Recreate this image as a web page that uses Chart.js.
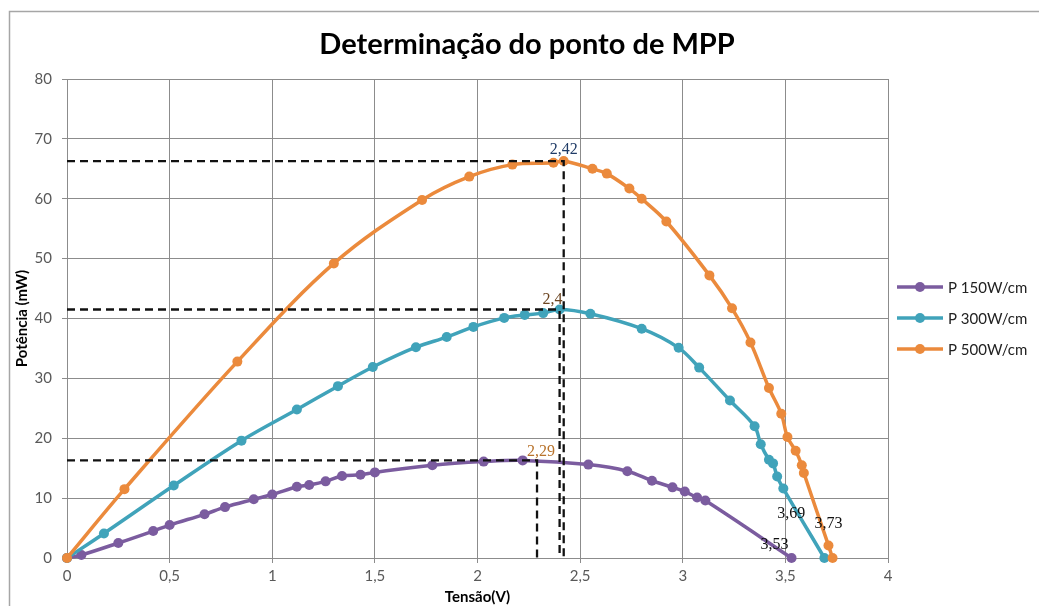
<!DOCTYPE html>
<html>
<head>
<meta charset="utf-8">
<title>Determinação do ponto de MPP</title>
<script src="https://cdn.jsdelivr.net/npm/chart.js@4.4.0/dist/chart.umd.min.js"></script>
<style>
  html, body { margin: 0; padding: 0; background: #fff; }
  #wrap { width: 1039px; height: 606px; }
</style>
</head>
<body>
<div id="wrap"><canvas id="mppChart" width="1039" height="606"></canvas></div>
<script>
// series: tensão (V) and potência (mW)
const seriesNames = ["P 150W/cm", "P 300W/cm", "P 500W/cm"];
const seriesColors = ["#7b5c9f", "#40a3ba", "#eb8a3c"];

const v150 = [0, 0.07, 0.25, 0.42, 0.50, 0.67, 0.77, 0.91, 1.00, 1.12, 1.18, 1.26, 1.34, 1.43, 1.50,
  1.78, 2.03, 2.22, 2.54, 2.73, 2.85, 2.95, 3.01, 3.07, 3.11, 3.53];
const p150 = [0, 0.5, 2.5, 4.5, 5.5, 7.3, 8.5, 9.8, 10.6, 11.9, 12.2, 12.8, 13.7, 13.9, 14.3,
  15.5, 16.1, 16.3, 15.6, 14.5, 12.9, 11.8, 11.1, 10.1, 9.6, 0];

const v300 = [0, 0.18, 0.52, 0.85, 1.12, 1.32, 1.49, 1.70, 1.85, 1.98, 2.13, 2.23, 2.32, 2.40, 2.55,
  2.80, 2.98, 3.08, 3.23, 3.35, 3.38, 3.42, 3.44, 3.46, 3.49, 3.69];
const p300 = [0, 4.1, 12.1, 19.6, 24.8, 28.7, 31.9, 35.2, 36.9, 38.6, 40.1, 40.6, 40.9, 41.5, 40.8,
  38.3, 35.1, 31.8, 26.3, 22.0, 19.0, 16.4, 15.8, 13.6, 11.6, 0];

const v500 = [0, 0.28, 0.83, 1.30, 1.73, 1.96, 2.17, 2.37, 2.42, 2.56, 2.63, 2.74, 2.80, 2.92, 3.13,
  3.24, 3.33, 3.42, 3.48, 3.51, 3.55, 3.58, 3.59, 3.71, 3.73];
const p500 = [0, 11.5, 32.8, 49.2, 59.8, 63.7, 65.7, 66.0, 66.3, 65.0, 64.2, 61.7, 60.0, 56.2, 47.2,
  41.7, 36.0, 28.4, 24.1, 20.2, 17.9, 15.5, 14.2, 2.1, 0];

// MPP for each series (dashed guides) and open-circuit voltages
const mppV = [2.29, 2.4, 2.42];
const mppP = [16.3, 41.5, 66.3];
const vocV = [3.53, 3.69, 3.73];

const xTickLabels = ["0", "0,5", "1", "1,5", "2", "2,5", "3", "3,5", "4"];
const yTickLabels = ["0", "10", "20", "30", "40", "50", "60", "70", "80"];

const fmt = (n) => String(n).replace(".", ",");
const toPoints = (xs, ys) => xs.map((x, i) => ({ x, y: ys[i] }));

const curves = [[v150, p150], [v300, p300], [v500, p500]].map(([xs, ys], i) => ({
  label: seriesNames[i],
  data: toPoints(xs, ys),
  showLine: true,
  borderColor: seriesColors[i],
  backgroundColor: seriesColors[i],
  borderWidth: 3.5,
  pointRadius: 5,
  pointBorderWidth: 0,
  tension: 0.35,
  clip: false,
  order: 2 - i,
}));

const guides = mppV.map((v, i) => ({
  label: "mpp" + i,
  data: [{ x: 0, y: mppP[i] }, { x: v, y: mppP[i] }, { x: v, y: 0 }],
  showLine: true,
  borderColor: "#111",
  borderWidth: 2.3,
  borderDash: [8, 5],
  pointRadius: 0,
  tension: 0,
  order: -1,
}));

// label offsets (px) relative to the anchor value
const mppLabels = [
  { text: fmt(mppV[2]), x: mppV[2], y: mppP[2], dx: 0, dy: -11, color: "#1f3b66" },
  { text: fmt(mppV[1]), x: mppV[1], y: mppP[1], dx: -7, dy: -10, color: "#6b4420" },
  { text: fmt(mppV[0]), x: mppV[0], y: mppP[0], dx: 4, dy: -9, color: "#b8732c" },
  { text: fmt(vocV[1]), x: vocV[1], y: 0, dx: -33, dy: -44, color: "#111" },
  { text: fmt(vocV[2]), x: vocV[2], y: 0, dx: -4, dy: -34, color: "#111" },
  { text: fmt(vocV[0]), x: vocV[0], y: 0, dx: -17, dy: -13, color: "#111" },
];

const frame = {
  id: "frame",
  beforeDraw(chart) {
    const ctx = chart.ctx;
    ctx.save();
    ctx.fillStyle = "#fff";
    ctx.fillRect(0, 0, chart.width, chart.height);
    ctx.strokeStyle = "#a6a6a6";
    ctx.lineWidth = 1.5;
    ctx.strokeRect(9.5, 11.5, chart.width + 20, chart.height + 20);
    ctx.restore();
  },
  afterDraw(chart) {
    const ctx = chart.ctx;
    const { x, y } = chart.scales;
    ctx.save();
    // title
    ctx.fillStyle = "#000";
    ctx.font = "bold 29px Lato";
    ctx.textAlign = "center";
    ctx.textBaseline = "middle";
    ctx.fillText("Determinação do ponto de MPP", 527, 45);

    // value labels
    ctx.font = "16px 'Liberation Serif'";
    mppLabels.forEach((l) => {
      ctx.fillStyle = l.color;
      ctx.fillText(l.text, x.getPixelForValue(l.x) + l.dx, y.getPixelForValue(l.y) + l.dy);
    });

    // legend
    ctx.font = "15px Lato";
    ctx.textAlign = "left";
    seriesNames.forEach((name, i) => {
      const ly = 287 + i * 31;
      ctx.strokeStyle = seriesColors[i];
      ctx.lineWidth = 3.5;
      ctx.beginPath();
      ctx.moveTo(897, ly);
      ctx.lineTo(943, ly);
      ctx.stroke();
      ctx.fillStyle = seriesColors[i];
      ctx.beginPath();
      ctx.arc(920, ly, 5, 0, Math.PI * 2);
      ctx.fill();
      ctx.fillStyle = "#222";
      ctx.fillText(name, 948, ly + 1);
    });
    ctx.restore();
  },
};

Chart.defaults.font.family = "Lato";

new Chart(document.getElementById("mppChart"), {
  type: "scatter",
  data: { datasets: [...curves, ...guides] },
  options: {
    responsive: false,
    animation: false,
    layout: { padding: { left: 9, right: 151, top: 79, bottom: 0 } },
    plugins: {
      legend: { display: false },
      title: { display: false },
      tooltip: { enabled: false },
    },
    scales: {
      x: {
        type: "linear",
        min: 0,
        max: 4,
        afterFit: (s) => { s.height = 48; },
        ticks: {
          stepSize: 0.5,
          color: "#595959",
          font: { size: 15 },
          padding: 4,
          maxRotation: 0,
          callback: (v, i) => xTickLabels[i],
        },
        grid: { color: "#8c8c8c", lineWidth: 1, tickLength: 5 },
        border: { color: "#8c8c8c" },
        title: {
          display: true,
          text: "Tensão(V)",
          color: "#000",
          font: { size: 15, weight: "bold" },
          padding: { top: 0, bottom: 0 },
        },
      },
      y: {
        type: "linear",
        min: 0,
        max: 80,
        afterFit: (s) => { s.width = 58; },
        ticks: {
          stepSize: 10,
          color: "#595959",
          font: { size: 15 },
          padding: 10,
          callback: (v, i) => yTickLabels[i],
        },
        grid: { color: "#8c8c8c", lineWidth: 1, tickLength: 5 },
        border: { color: "#8c8c8c" },
        title: {
          display: true,
          text: "Potência (mW)",
          color: "#000",
          font: { size: 15, weight: "bold" },
          padding: { top: 4, bottom: 0 },
        },
      },
    },
  },
  plugins: [frame],
});
</script>
</body>
</html>
